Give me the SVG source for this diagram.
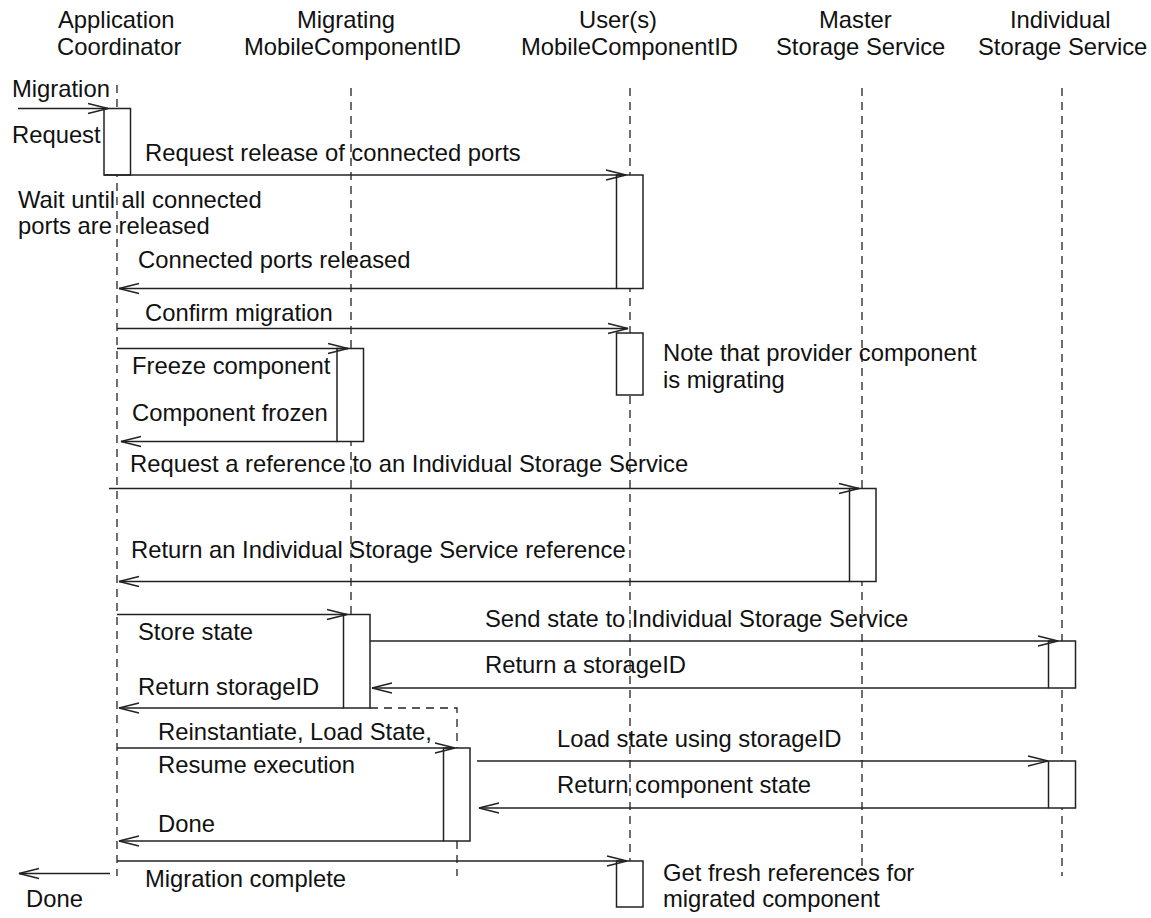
<svg xmlns="http://www.w3.org/2000/svg" width="1151" height="918" viewBox="0 0 1151 918">
  <style>
    text { font-family: "Liberation Sans", Arial, Helvetica, sans-serif; font-size: 23.8px; fill: #111; }
    .life { stroke: #222; stroke-width: 1.3; stroke-dasharray: 8 6; fill: none; }
    .act { fill: #fff; stroke: #222; stroke-width: 1.5; }
    .msg { stroke: #222; stroke-width: 1.3; fill: none; marker-end: url(#open); }
  </style>
  <defs>
    <!-- open V arrowhead used by every message -->
    <marker id="open" markerUnits="userSpaceOnUse" markerWidth="24" markerHeight="14" refX="21" refY="6" orient="auto" overflow="visible">
      <path d="M1,1 L21,6 L1,11" fill="none" stroke="#222" stroke-width="1.3"/>
    </marker>
  </defs>
  <rect width="1151" height="918" fill="#fff"/>

  <!-- participants: header, lifeline, activation bars -->
  <g id="app-coordinator">
    <text x="58" y="28">Application</text>
    <text x="57" y="55">Coordinator</text>
    <line class="life" x1="117" y1="85" x2="117" y2="876"/>
    <rect class="act" x="104" y="108.5" width="26.5" height="66.5"/>
  </g>

  <g id="migrating-component">
    <text x="297" y="28">Migrating</text>
    <text x="244" y="55">MobileComponentID</text>
    <line class="life" x1="351" y1="88" x2="351" y2="708"/>
    <rect class="act" x="337" y="348.5" width="26.5" height="93"/>
    <rect class="act" x="343.5" y="614.5" width="26.5" height="93.5"/>
    <!-- component relocated: lifeline resumes further right -->
    <path class="life" d="M370,708 H457 V748"/>
    <rect class="act" x="443.5" y="748" width="26.5" height="93"/>
    <line class="life" x1="457" y1="841" x2="457" y2="876"/>
  </g>

  <g id="users-component">
    <text x="579" y="28">User(s)</text>
    <text x="521" y="55">MobileComponentID</text>
    <line class="life" x1="630" y1="88" x2="630" y2="861"/>
    <rect class="act" x="616.5" y="175" width="26.5" height="113.5"/>
    <rect class="act" x="616.5" y="333" width="26.5" height="62"/>
    <rect class="act" x="616.5" y="861" width="26.5" height="46"/>
  </g>

  <g id="master-storage">
    <text x="819" y="28">Master</text>
    <text x="776" y="55">Storage Service</text>
    <line class="life" x1="862" y1="88" x2="862" y2="876"/>
    <rect class="act" x="849.5" y="488.5" width="26.5" height="93"/>
  </g>

  <g id="individual-storage">
    <text x="1010" y="28">Individual</text>
    <text x="978" y="55">Storage Service</text>
    <line class="life" x1="1062" y1="88" x2="1062" y2="876"/>
    <rect class="act" x="1048.5" y="641" width="27" height="47"/>
    <rect class="act" x="1048.5" y="761" width="27" height="47"/>
  </g>

  <!-- messages -->
  <g id="messages">
    <path class="msg" d="M18,108.5 H108"/>
    <text x="12" y="97">Migration</text>
    <text x="12" y="143">Request</text>

    <path class="msg" d="M104,175 H626"/>
    <text x="145" y="161">Request release of connected ports</text>

    <path class="msg" d="M616.5,288.5 H119"/>
    <text x="138" y="268">Connected ports released</text>

    <path class="msg" d="M117,328.5 H628"/>
    <text x="145" y="321">Confirm migration</text>

    <path class="msg" d="M117,348.5 H348"/>
    <text x="132" y="374">Freeze component</text>

    <path class="msg" d="M337,441.5 H121"/>
    <text x="132" y="421">Component frozen</text>

    <path class="msg" d="M109,488.5 H859"/>
    <text x="130" y="472">Request a reference to an Individual Storage Service</text>

    <path class="msg" d="M849.5,581.5 H119"/>
    <text x="131" y="558">Return an Individual Storage Service reference</text>

    <path class="msg" d="M117,614.5 H347"/>
    <text x="138" y="640">Store state</text>

    <path class="msg" d="M370,641 H1058"/>
    <text x="485" y="627">Send state to Individual Storage Service</text>

    <path class="msg" d="M1048.5,688 H372"/>
    <text x="485" y="673">Return a storageID</text>

    <path class="msg" d="M343.5,708 H119"/>
    <text x="138" y="695">Return storageID</text>

    <path class="msg" d="M117,748 H455"/>
    <text x="158" y="740">Reinstantiate, Load State,</text>
    <text x="158" y="773">Resume execution</text>

    <path class="msg" d="M477,761 H1048"/>
    <text x="557" y="747">Load state using storageID</text>

    <path class="msg" d="M1048.5,808 H479"/>
    <text x="557" y="793">Return component state</text>

    <path class="msg" d="M443.5,841 H119"/>
    <text x="158" y="832">Done</text>

    <path class="msg" d="M117,861 H627"/>
    <text x="145" y="887">Migration complete</text>

    <path class="msg" d="M110,873.5 H19"/>
    <text x="26" y="907">Done</text>
  </g>

  <!-- annotations -->
  <g id="notes">
    <text x="18" y="208">Wait until all connected</text>
    <text x="18" y="234">ports are released</text>
    <text x="663" y="361">Note that provider component</text>
    <text x="663" y="388">is migrating</text>
    <text x="663" y="881">Get fresh references for</text>
    <text x="663" y="907">migrated component</text>
  </g>
</svg>
